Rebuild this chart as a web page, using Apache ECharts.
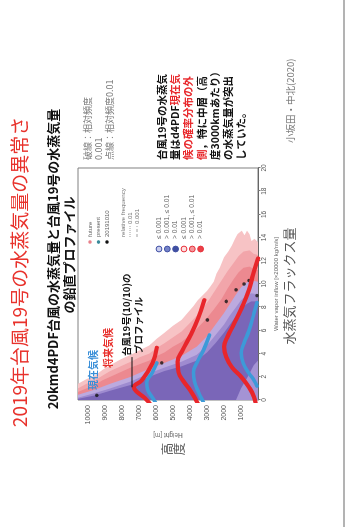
<!DOCTYPE html>
<html>
<head>
<meta charset="utf-8">
<script src="https://cdn.jsdelivr.net/npm/echarts@6/dist/echarts.min.js"></script>
<style>
  html, body { margin: 0; padding: 0; background: #fff; width: 347px; height: 527px; overflow: hidden; }
  /* the slide is laid out landscape and turned a quarter to the left */
  #stage { position: absolute; left: 0; top: 527px; width: 527px; height: 347px;
           transform-origin: 0 0; transform: rotate(-90deg); background: #fff; }
</style>
</head>
<body>
<div id="stage"></div>
<script>
// ---- axes -------------------------------------------------------------
const fluxTicks = [0, 2, 4, 6, 8, 10, 12, 14, 16, 18, 20];                 // water vapour inflow
const heightTicks = [1000, 2000, 3000, 4000, 5000, 6000, 7000, 8000, 9000, 10000]; // height [m]

// ---- d4PDF typhoon frequency envelopes: [flux, height] from top to surface
// future climate (pink shades)
const futureLow = [[1.4,10600],[1.8,10100],[2.1,9600],[2.6,9150],[3.0,8700],[3.5,8100],[3.9,7500],[4.3,6950],[4.7,6400],[5.3,5950],[5.8,5500],[6.4,5000],[6.9,4500],[7.6,4100],[8.1,3800],[8.6,3550],[9.4,3000],[9.8,2800],[10.2,2600],[10.9,2450],[11.4,2250],[12.3,2000],[12.8,1750],[13.3,1550],[13.9,1350],[14.3,1200],[14.6,950],[14.2,800],[14.6,650],[14.3,500],[13.7,380],[13.9,200],[13.6,0]];
const futureMid = [[1.0,10600],[1.4,10100],[1.7,9600],[2.1,9150],[2.5,8700],[2.9,8100],[3.3,7500],[3.7,6950],[4.0,6400],[4.5,5950],[4.9,5500],[5.4,5000],[5.9,4500],[6.8,3900],[7.6,3400],[8.6,2900],[9.5,2500],[10.4,2100],[11.1,1800],[11.8,1450],[12.4,1150],[12.8,850],[12.9,500],[12.6,250],[12.5,0]];
const futureHigh = [[0.7,10600],[1.0,10100],[1.3,9600],[1.7,9150],[2.0,8700],[2.4,8100],[2.8,7500],[3.1,6950],[3.4,6400],[3.8,5950],[4.1,5500],[4.6,5000],[5.0,4500],[6.0,3700],[6.9,3100],[7.8,2600],[8.7,2150],[9.6,1800],[10.4,1450],[11.0,1150],[11.4,850],[11.5,500],[11.3,250],[11.2,0]];
// present climate (purple shades)
const presentLow = [[0.45,10600],[0.9,9600],[1.4,8700],[2.0,7500],[2.7,6400],[3.2,5500],[3.8,4500],[4.6,3600],[5.5,3000],[6.5,2500],[7.5,2000],[8.3,1650],[9.1,1300],[9.7,1000],[10.1,700],[10.3,400],[10.2,0]];
const presentMid = [[0.2,10600],[0.6,9600],[1.0,8700],[1.6,7500],[2.3,6400],[2.8,5500],[3.3,4500],[3.9,3600],[4.7,3000],[5.6,2500],[6.5,2000],[7.3,1650],[8.0,1300],[8.6,1000],[9.0,700],[9.2,400],[9.1,0]];
const presentHigh = [[0.1,10600],[0.4,9600],[0.8,8700],[1.3,7500],[2.0,6400],[2.5,5500],[2.9,4500],[3.4,3600],[4.1,3000],[4.9,2500],[5.8,2000],[6.6,1600],[7.3,1250],[7.9,950],[8.3,650],[8.5,400],[8.5,0]];
// weak-inflow fringe near the surface (present, lower frequency)
const presentSurface = [[0,1300],[1.0,1000],[2.0,600],[3.0,250],[3.4,0]];

// ---- typhoon Hagibis (2019-10-10) profile
const typhoon19 = [[0.4,9490],[3.2,5670],[6.9,2980],[8.5,1870],[9.5,1290],[10.0,820],[10.3,530],[9.0,60]];

// ---- schematic distributions at three levels
const futurePdf1 = [[-1.0,5900],[-0.6,6200],[0.17,6660],[0.7,7130],[1.1,7310],[1.7,6840],[3.2,6200],[4.5,5960]];
const presentPdf1 = [[-0.43,5960],[0.17,6200],[0.86,6490],[1.5,6550],[2.3,6250],[3.2,5960]];
const futurePdf2 = [[-1.0,3270],[-0.1,3620],[0.8,3970],[1.6,4380],[2.4,4680],[3.3,4730],[4.3,4440],[5.6,3970],[7.1,3510],[8.6,3160]];
const presentPdf2 = [[-0.9,2980],[-0.2,3210],[0.7,3510],[1.6,3740],[2.4,3800],[3.3,3570],[4.3,3210],[5.6,2860]];
const futurePdf3 = [[-0.6,120],[0.26,230],[1.1,530],[2.0,990],[2.8,1520],[3.7,1870],[4.6,1990],[5.4,1810],[6.6,1400],[8.0,940],[9.5,530],[10.8,290],[12.2,0]];
const presentPdf3 = [[1.2,60],[1.7,230],[2.3,530],[3.2,880],[4.05,990],[4.9,820],[6.0,530],[7.5,230],[8.4,60]];

// leader from the profile label
const leaderLine = [[1.1,7420],[3.7,7420]];

const FONT = '"Noto Sans CJK JP", "Noto Sans", sans-serif';
const LATIN = '"Liberation Sans", "DejaVu Sans", sans-serif';

function envelope(name, points, color) {
  return {
    name, type: 'custom', coordinateSystem: 'cartesian2d', silent: true, z: 2,
    data: [[0, 0]],
    renderItem(params, api) {
      const pts = [api.coord([0, points[0][1]])]
        .concat(points.map(p => api.coord(p)))
        .concat([api.coord([0, points[points.length - 1][1]])]);
      return { type: 'polygon', shape: { points: pts }, style: { fill: color } };
    }
  };
}
function pdfCurve(name, points, color, width) {
  return {
    name, type: 'line', data: points, smooth: 0.45, showSymbol: false, clip: false,
    silent: true, z: 6, lineStyle: { color, width, cap: 'round', join: 'round' }
  };
}
function txt(x, y, text, size, fill, opts) {
  const o = Object.assign({ align: 'left', vAlign: 'middle', weight: 'normal', family: FONT }, opts || {});
  return {
    type: 'text', x, y, silent: true, z: 20,
    style: {
      text, fill, fontSize: size, fontWeight: o.weight, fontFamily: o.family,
      align: o.align, verticalAlign: o.vAlign, textAlign: o.align, textVerticalAlign: o.vAlign,
      lineHeight: o.lineHeight, rich: o.rich
    }
  };
}

const chart = echarts.init(document.getElementById('stage'));

const graphic = [
  // slide edge
  { type: 'line', silent: true, shape: { x1: 0, y1: 344, x2: 527, y2: 344 }, style: { stroke: '#9a9a9a', lineWidth: 1.5 } },
  // headings
  txt(255, 20, '2019年台風19号の水蒸気量の異常さ', 19, '#e8322c', { align: 'center' }),
  txt(268, 53, '20kmd4PDF台風の水蒸気量と台風19号の水蒸気量', 13, '#111', { align: 'center', weight: 'bold' }),
  txt(272, 69, 'の鉛直プロファイル', 13, '#111', { align: 'center', weight: 'bold' }),
  // line style note
  txt(367, 82, '破線：相対頻度\n0.001\n点線：相対頻度0.01', 9, '#7a7a7a', { vAlign: 'top', lineHeight: 11.2 }),
  // commentary
  txt(367, 155,
      '{k|台風19号の水蒸気}\n{k|量はd4PDF}{r|現在気}\n{r|候の確率分布の外}\n{r|側}{k|，特に中層（高}\n{k|度3000kmあたり）}\n{k|の水蒸気量が突出}\n{k|していた。}',
      10.5, '#111', {
        vAlign: 'top', weight: 'bold', lineHeight: 13.3,
        rich: {
          k: { fill: '#111', fontSize: 10.5, fontWeight: 'bold', fontFamily: FONT, lineHeight: 13.3 },
          r: { fill: '#e8282c', fontSize: 10.5, fontWeight: 'bold', fontFamily: FONT, lineHeight: 13.3 }
        }
      }),
  txt(384, 290, '小坂田・中北(2020)', 9.5, '#7a7a7a'),
  // axis captions in Japanese
  txt(241, 289, '水蒸気フラックス量', 13, '#555', { align: 'center' }),
  txt(78, 173, '高\n度', 12.5, '#555', { align: 'center', lineHeight: 12.5 }),
  // in-plot annotations
  txt(137, 93, '現在気候', 10, '#3a8fd8', { weight: 'bold' }),
  txt(159, 108, '将来気候', 10, '#e8302c', { weight: 'bold' }),
  txt(171, 126, '台風19号(10/10)の', 9.5, '#111', { weight: 'bold' }),
  txt(173, 138, 'プロファイル', 9.5, '#111', { weight: 'bold' }),
  // series key
  { type: 'circle', silent: true, z: 20, shape: { cx: 285, cy: 90, r: 1.8 }, style: { fill: '#e8808a' } },
  { type: 'circle', silent: true, z: 20, shape: { cx: 285, cy: 98.5, r: 1.8 }, style: { fill: '#3a8a9a' } },
  { type: 'circle', silent: true, z: 20, shape: { cx: 285, cy: 107, r: 1.8 }, style: { fill: '#111' } },
  txt(290, 90, 'future', 6, '#666', { family: LATIN }),
  txt(290, 98.5, 'present', 6, '#666', { family: LATIN }),
  txt(290, 107, '20191010', 6, '#666', { family: LATIN }),
  txt(290, 123, 'relative frequency', 6.2, '#777', { family: LATIN }),
  { type: 'line', silent: true, z: 20, shape: { x1: 290, y1: 130, x2: 301, y2: 130 }, style: { stroke: '#888', lineWidth: 0.8, lineDash: [1, 1] } },
  { type: 'line', silent: true, z: 20, shape: { x1: 290, y1: 137, x2: 301, y2: 137 }, style: { stroke: '#888', lineWidth: 0.8, lineDash: [3, 2] } },
  txt(303, 130, '0.01', 6, '#777', { family: LATIN }),
  txt(303, 137, '0.001', 6, '#777', { family: LATIN }),
  // frequency class key
  { type: 'circle', silent: true, z: 20, shape: { cx: 278, cy: 159, r: 2.9 }, style: { fill: '#c9cdee', stroke: '#4050a4', lineWidth: 1 } },
  { type: 'circle', silent: true, z: 20, shape: { cx: 278, cy: 167.3, r: 2.9 }, style: { fill: '#7482c8', stroke: '#4050a4', lineWidth: 1 } },
  { type: 'circle', silent: true, z: 20, shape: { cx: 278, cy: 175.6, r: 2.9 }, style: { fill: '#3f4fa2', stroke: '#3f4fa2', lineWidth: 1 } },
  { type: 'circle', silent: true, z: 20, shape: { cx: 278, cy: 184, r: 2.9 }, style: { fill: '#fde2e2', stroke: '#e8303a', lineWidth: 1 } },
  { type: 'circle', silent: true, z: 20, shape: { cx: 278, cy: 192.3, r: 2.9 }, style: { fill: '#f4979c', stroke: '#e8303a', lineWidth: 1 } },
  { type: 'circle', silent: true, z: 20, shape: { cx: 278, cy: 200.6, r: 2.9 }, style: { fill: '#ea4048', stroke: '#e8303a', lineWidth: 1 } },
  txt(288, 159, '≤ 0.001', 6.6, '#666', { family: LATIN }),
  txt(288, 167.3, '> 0.001, ≤ 0.01', 6.6, '#666', { family: LATIN }),
  txt(288, 175.6, '> 0.01', 6.6, '#666', { family: LATIN }),
  txt(288, 184, '≤ 0.001', 6.6, '#666', { family: LATIN }),
  txt(288, 192.3, '> 0.001, ≤ 0.01', 6.6, '#666', { family: LATIN }),
  txt(288, 200.6, '> 0.01', 6.6, '#666', { family: LATIN })
];

chart.setOption({
  animation: false,
  backgroundColor: '#fff',
  grid: { left: 127, top: 78, width: 232, height: 180, show: true, borderColor: '#808080', borderWidth: 1, backgroundColor: '#fff' },
  xAxis: {
    type: 'value', min: 0, max: 20, interval: 2,
    name: 'Water vapor inflow [×20000 kg/m/s]', nameLocation: 'middle', nameGap: 12,
    nameTextStyle: { fontSize: 6, color: '#666', fontFamily: LATIN },
    axisLine: { show: true, lineStyle: { color: '#666' } },
    axisTick: { show: true, length: 2.5, lineStyle: { color: '#777' } },
    axisLabel: { fontSize: 6.5, color: '#555', margin: 3, fontFamily: LATIN,
                 formatter: v => fluxTicks.includes(v) ? String(v) : '' },
    splitLine: { show: false }
  },
  yAxis: {
    type: 'value', min: 0, max: 10600, interval: 1000,
    name: 'Height [m]', nameLocation: 'middle', nameGap: 31, nameRotate: 90,
    nameTextStyle: { fontSize: 6.5, color: '#666', fontFamily: LATIN },
    axisLine: { show: false }, axisTick: { show: false },
    axisLabel: { fontSize: 7, color: '#555', margin: 5, fontFamily: LATIN,
                 formatter: v => heightTicks.includes(v) ? String(v) : '' },
    splitLine: { show: false }
  },
  series: [
    envelope('future ≤0.001', futureLow, '#f7c3c5'),
    envelope('future 0.001-0.01', futureMid, '#f2a5aa'),
    envelope('future >0.01', futureHigh, '#ec8990'),
    envelope('present ≤0.001', presentLow, '#bcaadf'),
    envelope('present 0.001-0.01', presentMid, '#9e8bd0'),
    envelope('present >0.01', presentHigh, '#7a66b8'),
    envelope('present surface fringe', presentSurface, '#a493d4'),
    {
      name: '20191010', type: 'scatter', data: typhoon19, symbolSize: 3.6, z: 4, silent: true,
      itemStyle: { color: '#151515' }
    },
    {
      name: 'leader', type: 'line', data: leaderLine, showSymbol: false, clip: false, silent: true, z: 7,
      lineStyle: { color: '#111', width: 1 }
    },
    pdfCurve('present pdf 1', presentPdf1, '#3d9ad8', 3.6),
    pdfCurve('present pdf 2', presentPdf2, '#3d9ad8', 3.6),
    pdfCurve('present pdf 3', presentPdf3, '#3d9ad8', 3.6),
    pdfCurve('future pdf 1', futurePdf1, '#e8262b', 4.2),
    pdfCurve('future pdf 2', futurePdf2, '#e8262b', 4.2),
    pdfCurve('future pdf 3', futurePdf3, '#e8262b', 4.2)
  ],
  graphic
});
</script>
</body>
</html>
